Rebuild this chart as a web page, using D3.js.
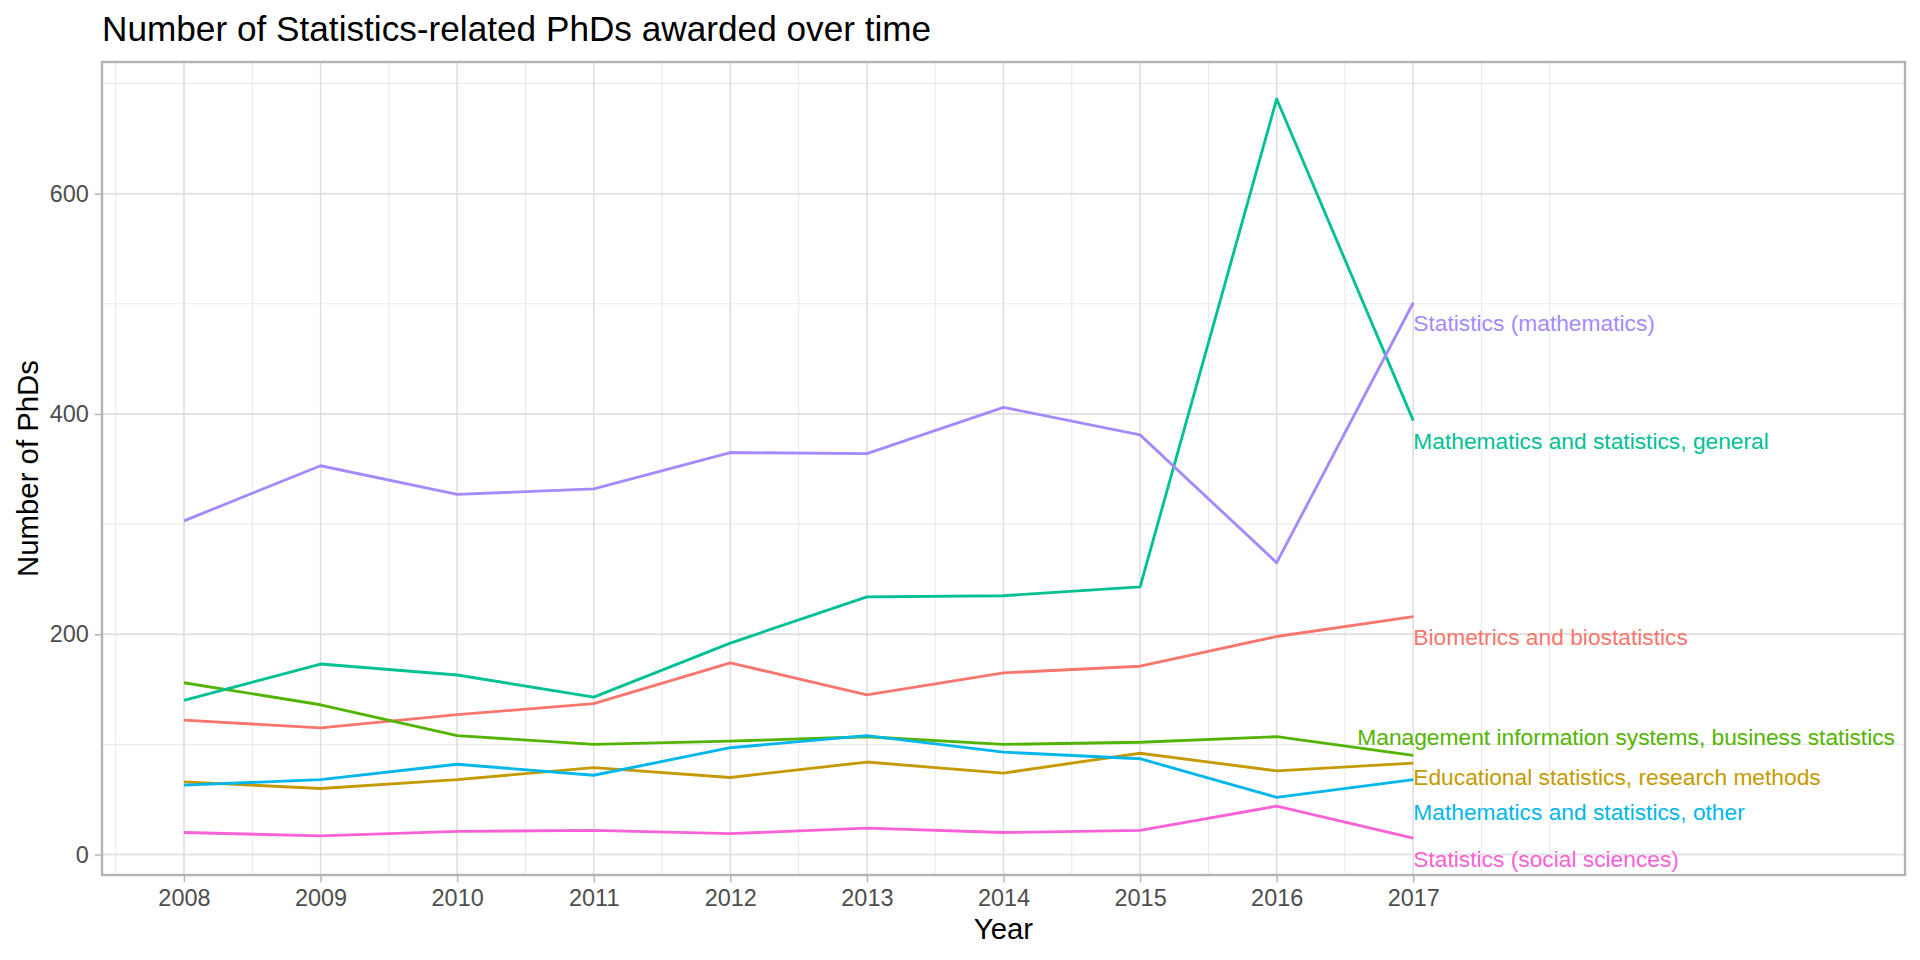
<!DOCTYPE html>
<html>
<head>
<meta charset="utf-8">
<script src="https://cdn.jsdelivr.net/npm/d3@7"></script>
<style>
  body { margin: 0; background: #fff; }
  svg { display: block; font-family: "Liberation Sans", Arial, sans-serif; }
</style>
</head>
<body>
<svg width="1920" height="960"></svg>
<script>
// data
var years = [2008, 2009, 2010, 2011, 2012, 2013, 2014, 2015, 2016, 2017];
var fields = [
  "Biometrics and biostatistics",
  "Educational statistics, research methods",
  "Management information systems, business statistics",
  "Mathematics and statistics, general",
  "Mathematics and statistics, other",
  "Statistics (mathematics)",
  "Statistics (social sciences)"
];
var biometrics   = [122, 115, 127, 137, 174, 145, 165, 171, 198, 216];
var educational  = [66, 60, 68, 79, 70, 84, 74, 92, 76, 83];
var management   = [156, 136, 108, 100, 103, 107, 100, 102, 107, 90];
var mathGeneral  = [140, 173, 163, 143, 192, 234, 235, 243, 686, 394];
var mathOther    = [63, 68, 82, 72, 97, 108, 93, 87, 52, 68];
var statsMath    = [303, 353, 327, 332, 365, 364, 406, 381, 265, 501];
var statsSocial  = [20, 17, 21, 22, 19, 24, 20, 22, 44, 15];
// where each end label sits (in PhD counts), as placed in the picture
var labelValues  = [197.6, 70.7, 107, 375.2, 38.7, 482.5, -4.2];
var xLimits = [2008, 2020];
var yTicks = [0, 200, 400, 600];

var values = [biometrics, educational, management, mathGeneral, mathOther, statsMath, statsSocial];
var series = fields.map(function(f, i) {
  return { name: f, values: values[i], labelAt: labelValues[i] };
});

var svg = d3.select("svg"),
    width = +svg.attr("width"),
    height = +svg.attr("height");

var pt = 192 / 72;   // ggplot at 192 dpi
var panel = { left: 102, right: 1905, top: 62, bottom: 875 };

function expand(ext) {
  var d = (ext[1] - ext[0]) * 0.05;
  return [ext[0] - d, ext[1] + d];
}

var color = d3.scaleOrdinal()
  .domain(fields)
  .range(["#F8766D", "#C49A00", "#53B400", "#00C094", "#00B6EB", "#A58AFF", "#FB61D7"]);

var x = d3.scaleLinear().domain(expand(xLimits)).range([panel.left, panel.right]);
var y = d3.scaleLinear()
  .domain(expand(d3.extent(d3.merge(values))))
  .range([panel.bottom, panel.top]);

// grid
var grid = svg.append("g");
var xMinor = d3.range(2007, 2018.01, 0.5).filter(function(v) {
  return v >= x.domain()[0] && v <= x.domain()[1];
});
var yMinor = d3.range(-100, 801, 100).filter(function(v) {
  return v >= y.domain()[0] && v <= y.domain()[1];
});

grid.selectAll(".xminor").data(xMinor).enter().append("line")
  .attr("x1", function(d) { return x(d); }).attr("x2", function(d) { return x(d); })
  .attr("y1", panel.top).attr("y2", panel.bottom)
  .attr("stroke", "#DEDEDE").attr("stroke-width", 0.71);
grid.selectAll(".yminor").data(yMinor).enter().append("line")
  .attr("y1", function(d) { return y(d); }).attr("y2", function(d) { return y(d); })
  .attr("x1", panel.left).attr("x2", panel.right)
  .attr("stroke", "#DEDEDE").attr("stroke-width", 0.71);
grid.selectAll(".xmajor").data(years).enter().append("line")
  .attr("x1", function(d) { return x(d); }).attr("x2", function(d) { return x(d); })
  .attr("y1", panel.top).attr("y2", panel.bottom)
  .attr("stroke", "#DEDEDE").attr("stroke-width", 1.42);
grid.selectAll(".ymajor").data(yTicks).enter().append("line")
  .attr("y1", function(d) { return y(d); }).attr("y2", function(d) { return y(d); })
  .attr("x1", panel.left).attr("x2", panel.right)
  .attr("stroke", "#DEDEDE").attr("stroke-width", 1.42);

// lines
var line = d3.line()
  .x(function(d, i) { return x(years[i]); })
  .y(function(d) { return y(d); });

svg.append("g").selectAll("path")
  .data(series)
  .enter().append("path")
  .attr("fill", "none")
  .attr("stroke", function(d) { return color(d.name); })
  .attr("stroke-width", 2.85)
  .attr("stroke-linejoin", "round")
  .attr("d", function(d) { return line(d.values); });

// end labels, pushed left when they would run past the panel
var labels = svg.append("g").selectAll("text")
  .data(series)
  .enter().append("text")
  .attr("fill", function(d) { return color(d.name); })
  .attr("font-size", 8.54 * pt)
  .attr("dy", "0.35em")
  .attr("y", function(d) { return y(d.labelAt); })
  .text(function(d) { return d.name; });

labels.attr("x", function(d) {
  var w = this.getComputedTextLength();
  var x0 = x(years[years.length - 1]);
  return Math.min(x0, panel.right - 10 - w);
});

// panel border
svg.append("rect")
  .attr("x", panel.left).attr("y", panel.top)
  .attr("width", panel.right - panel.left)
  .attr("height", panel.bottom - panel.top)
  .attr("fill", "none")
  .attr("stroke", "#B3B3B3")
  .attr("stroke-width", 2.4);

// axes
var xAxis = svg.append("g")
  .attr("transform", "translate(0," + panel.bottom + ")")
  .call(d3.axisBottom(x).tickValues(years).tickFormat(d3.format("d"))
    .tickSize(2.75 * pt).tickPadding(2.2 * pt + 1));
var yAxis = svg.append("g")
  .attr("transform", "translate(" + panel.left + ",0)")
  .call(d3.axisLeft(y).tickValues(yTicks).tickSize(2.75 * pt).tickPadding(2.2 * pt));

[xAxis, yAxis].forEach(function(a) {
  a.select(".domain").remove();
  a.selectAll(".tick line").attr("stroke", "#B3B3B3").attr("stroke-width", 1.42);
  a.selectAll(".tick text")
    .attr("fill", "#4D4D4D")
    .attr("font-size", 8.8 * pt)
    .attr("font-family", "Liberation Sans, Arial, sans-serif");
});

// titles
svg.append("text")
  .attr("x", panel.left)
  .attr("y", 41)
  .attr("font-size", 13.2 * pt)
  .attr("fill", "#000")
  .text("Number of Statistics-related PhDs awarded over time");

svg.append("text")
  .attr("x", (panel.left + panel.right) / 2)
  .attr("y", 939)
  .attr("text-anchor", "middle")
  .attr("font-size", 11 * pt)
  .attr("fill", "#000")
  .text("Year");

svg.append("text")
  .attr("transform", "translate(38," + (panel.top + panel.bottom) / 2 + ") rotate(-90)")
  .attr("text-anchor", "middle")
  .attr("font-size", 11 * pt)
  .attr("fill", "#000")
  .text("Number of PhDs");
</script>
</body>
</html>
